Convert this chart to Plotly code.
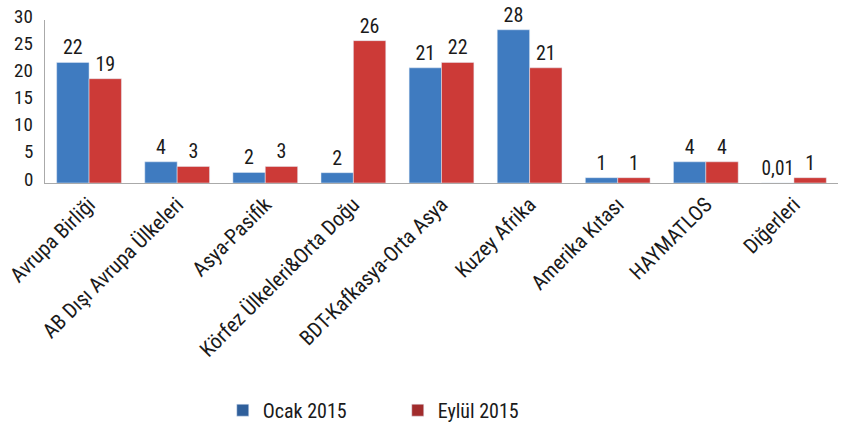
import plotly.graph_objects as go

categories = ["Avrupa Birliği", "AB Dışı Avrupa Ülkeleri", "Asya-Pasifik",
              "Körfez Ülkeleri&Orta Doğu", "BDT-Kafkasya-Orta Asya", "Kuzey Afrika",
              "Amerika Kıtası", "HAYMATLOS", "Diğerleri"]
ocak_2015 = [22.2, 3.9, 1.95, 1.9, 21.2, 28.2, 0.98, 3.9, 0.01]
eylul_2015 = [19.2, 3.05, 3.05, 26.2, 22.2, 21.2, 0.98, 3.9, 0.98]
ocak_labels = ["22", "4", "2", "2", "21", "28", "1", "4", "0,01"]
eylul_labels = ["19", "3", "3", "26", "22", "21", "1", "4", "1"]
y_ticks = [0, 5, 10, 15, 20, 25, 30]

FONT = "Liberation Sans Narrow, Arial Narrow, Roboto Condensed, Liberation Sans, sans-serif"
BLUE = "#3F7BC0"
RED = "#CC3A37"

fig = go.Figure()
fig.add_trace(go.Bar(x=categories, y=ocak_2015, text=ocak_labels, name="Ocak 2015",
                     marker_color=BLUE, offsetgroup="a", showlegend=False,
                     textposition="outside", cliponaxis=False,
                     textfont=dict(size=20, color="#1a1a1a", family=FONT)))
fig.add_trace(go.Bar(x=categories, y=eylul_2015, text=eylul_labels, name="Eylül 2015",
                     marker_color=RED, offsetgroup="b", showlegend=False,
                     textposition="outside", cliponaxis=False,
                     textfont=dict(size=20, color="#1a1a1a", family=FONT)))
# legend entries (darker swatches as in the reference)
fig.add_trace(go.Bar(x=[None], y=[None], name="Ocak 2015", marker_color="#2F5F9B", offsetgroup="a"))
fig.add_trace(go.Bar(x=[None], y=[None], name="Eylül 2015", marker_color="#A12C2C", offsetgroup="b"))

# y tick labels placed through the y axis scale (closer to the axis line, as in the reference)
for t in y_ticks:
    fig.add_annotation(x=0, xref="paper", y=t, yref="y", text=str(t), showarrow=False,
                       xanchor="right", yanchor="middle", xshift=-10, yshift=4,
                       font=dict(size=19, family=FONT, color="#1a1a1a"))

fig.update_layout(
    width=847, height=422,
    margin=dict(l=45, r=9, t=20, b=239, autoexpand=False),
    paper_bgcolor="white", plot_bgcolor="white",
    barmode="group", bargap=0.265, bargroupgap=0,
    font=dict(family=FONT, size=19, color="#1a1a1a"),
    showlegend=True,
    legend=dict(orientation="h", xref="container", yref="container",
                x=0.263, y=0.028, xanchor="left", yanchor="middle",
                font=dict(size=20, family=FONT), entrywidth=130, entrywidthmode="pixels",
                itemclick=False),
    xaxis=dict(showline=True, linecolor="#AAAAAA", linewidth=1, ticks="",
               tickangle=-45, tickfont=dict(size=21, family=FONT), showgrid=False,
               automargin=False),
    yaxis=dict(range=[0, 30], tickvals=y_ticks, showline=True, linecolor="#AAAAAA",
               linewidth=1, showgrid=False, zeroline=False, ticks="",
               showticklabels=False, automargin=False),
)

fig.write_html("out.html", config={"displayModeBar": False},
               post_script="document.body.style.margin='0';document.body.style.overflow='hidden';")
